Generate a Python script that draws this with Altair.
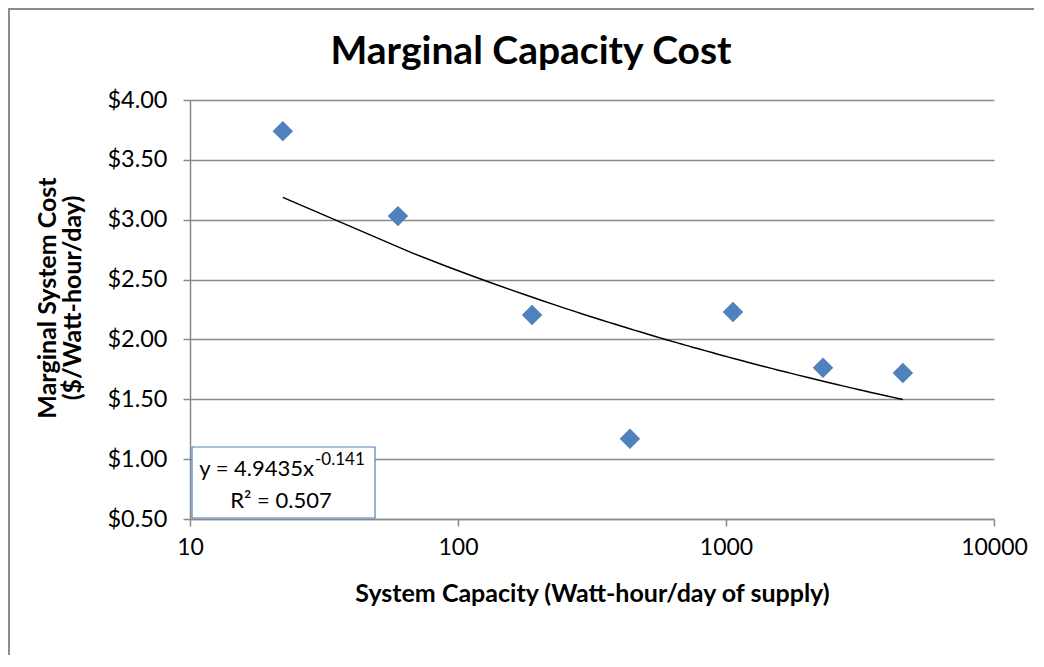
import altair as alt
import pandas as pd

# ---- data ----
capacity = [22.2, 59.7, 189, 438, 1062, 2301, 4571]
cost = [3.74, 3.03, 2.205, 1.17, 2.23, 1.763, 1.72]
x_ticks = [10, 100, 1000, 10000]
y_ticks = [0.5, 1.0, 1.5, 2.0, 2.5, 3.0, 3.5, 4.0]
chart_title = "Marginal Capacity Cost"
x_title = "System Capacity (Watt-hour/day of supply)"
y_title_1 = "Marginal System Cost"
y_title_2 = "($/Watt-hour/day)"
eq_main = "y = 4.9435x"
eq_exp = "-0.141"
eq_r2 = "R² = 0.507"

df = pd.DataFrame({"capacity": capacity, "cost": cost})
one = pd.DataFrame({"k": [0]})

W, H = 804, 419
FONT = "Lato"
GRID = "#8a8a8a"

x_enc = alt.X(
    "capacity:Q",
    scale=alt.Scale(type="log", domain=[10, 10000], nice=False),
    axis=alt.Axis(
        values=x_ticks, format="d", title=x_title, grid=False,
        labelFontSize=23, labelPadding=10, tickSize=7, tickColor=GRID,
        domainColor=GRID, domainWidth=1.5, tickWidth=1.5,
        titleFontSize=25, titleFontWeight="bold", titlePadding=22,
        labelFlush=False, labelColor="#000", titleColor="#000",
    ),
)
y_enc = alt.Y(
    "cost:Q",
    scale=alt.Scale(domain=[0.5, 4.0], nice=False, zero=False),
    axis=alt.Axis(
        values=y_ticks, format="$.2f", title=None,
        grid=True, gridColor=GRID, gridWidth=1.5,
        labelFontSize=23.5, labelPadding=16, tickSize=7, tickColor=GRID,
        domainColor=GRID, domainWidth=1.5, tickWidth=1.5,
        labelColor="#000",
    ),
)

base = alt.Chart(df)

trend = base.transform_regression(
    "capacity", "cost", method="pow"
).mark_line(color="black", strokeWidth=1.5).encode(x=x_enc, y=y_enc)

points = base.mark_point(
    shape="diamond", filled=True, size=420, color="#4F81BD", opacity=1
).encode(x=x_enc, y=y_enc)

ann = alt.Chart(one)
box = ann.mark_rect(fill="white", stroke="#4F81BD", strokeWidth=1.2).encode(
    x=alt.value(2), x2=alt.value(185), y=alt.value(347), y2=alt.value(418)
)
t1 = ann.mark_text(align="right", baseline="middle", fontSize=22, font=FONT, color="black").encode(
    x=alt.value(124), y=alt.value(369), text=alt.value(eq_main)
)
t_exp = ann.mark_text(align="left", baseline="middle", fontSize=17, font=FONT, color="black").encode(
    x=alt.value(125), y=alt.value(360), text=alt.value(eq_exp)
)
t2 = ann.mark_text(align="center", baseline="middle", fontSize=22, font=FONT, color="black").encode(
    x=alt.value(91), y=alt.value(401), text=alt.value(eq_r2)
)
title = ann.mark_text(align="center", baseline="middle", fontSize=39, fontWeight="bold", font=FONT, color="black").encode(
    x=alt.value(341), y=alt.value(-48), text=alt.value(chart_title)
)
yt1 = ann.mark_text(align="center", baseline="middle", angle=270, fontSize=25, fontWeight="bold", font=FONT, color="black").encode(
    x=alt.value(-142), y=alt.value(198), text=alt.value(y_title_1)
)
yt2 = ann.mark_text(align="center", baseline="middle", angle=270, fontSize=25, fontWeight="bold", font=FONT, color="black").encode(
    x=alt.value(-117), y=alt.value(198), text=alt.value(y_title_2)
)
border_left = ann.mark_rule(color="#8c8c8c", strokeWidth=2).encode(
    x=alt.value(-181), y=alt.value(-91), y2=alt.value(H + 140)
)
border_top = ann.mark_rule(color="#8c8c8c", strokeWidth=2).encode(
    x=alt.value(-182), x2=alt.value(W + 60), y=alt.value(-91)
)

chart = alt.layer(
    trend, points, box, t1, t_exp, t2, title, yt1, yt2, border_left, border_top
).properties(
    width=W, height=H,
    autosize=alt.AutoSizeParams(type="none"),
    padding={"left": 182, "top": 92, "right": 40, "bottom": 136},
    background="white",
).configure_view(stroke=None).configure_axis(
    labelFont=FONT, titleFont=FONT
)

chart.save("out.html", embed_options={"renderer": "svg", "actions": False})
